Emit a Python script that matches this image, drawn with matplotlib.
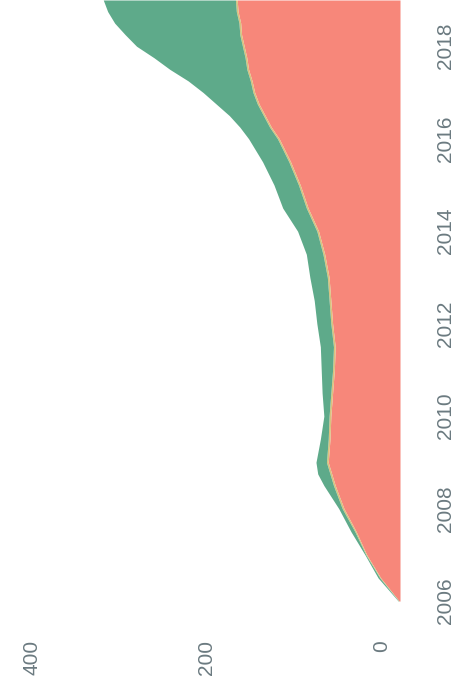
import matplotlib
matplotlib.use("Agg")
import matplotlib.pyplot as plt
import matplotlib.transforms as mtransforms
import numpy as np

# Data (stacked area, years on vertical axis in this rotated view)
years = [2006.0, 2006.5, 2007.0, 2007.5, 2008.0, 2008.5, 2008.75, 2009.0, 2009.5,
         2010.0, 2010.5, 2011.0, 2011.5, 2012.0, 2012.5, 2013.0, 2013.5, 2014.0,
         2014.5, 2015.0, 2015.5, 2016.0, 2016.25, 2016.5, 2016.75, 2017.0, 2017.25,
         2017.5, 2017.75, 2018.0, 2018.25, 2018.5, 2018.75, 2019.0]
red_series = [1, 22, 38, 50, 64, 74, 78, 82, 80,
              79, 77, 75, 74, 77, 79, 81, 86, 93,
              105, 114, 125, 138, 147, 154, 161, 166, 169,
              173, 175, 178, 181, 182, 185, 186]
yellow_series = [0.5, 1, 1, 1.5, 2, 2, 2, 2, 2,
                 2, 2, 2, 2, 2, 2, 2, 2, 2,
                 2, 2, 2, 2, 2, 2, 2, 2, 2,
                 2, 2, 2, 2, 2, 2, 2]
green_series = [0.5, 2, 1, 4.5, 4, 11, 14, 12, 9,
                6, 10, 13, 15, 16, 17, 20, 19, 22,
                27, 28, 30, 33, 34, 39, 47, 57, 71,
                88, 104, 121, 131, 142, 147, 151]
year_ticks = [2006, 2008, 2010, 2012, 2014, 2016, 2018]
value_ticks = [0, 200, 400]

W, H = 469, 698
fig = plt.figure(figsize=(W / 100, H / 100), dpi=100)
fig.patch.set_facecolor("white")
# axes: value 0 at x=400 px, years 2019 at top edge
ax = fig.add_axes([0, 90 / H, 400 / W, (H - 90) / H])

y = np.array(years)
r = np.array(red_series)
yl = r + np.array(yellow_series)
g = yl + np.array(green_series)

ax.fill_betweenx(y, 0, r, color="#F7877A", lw=0)
ax.fill_betweenx(y, r, yl, color="#D9C27E", lw=0)
ax.fill_betweenx(y, yl, g, color="#5EAA8A", lw=0)

ax.set_xlim(457, 0)
ax.set_ylim(2005.85, 2019.0)

for s in ax.spines.values():
    s.set_visible(False)
ax.set_facecolor("white")

txt_color = "#6b7a80"
fam = ["Liberation Sans Narrow", "Liberation Sans", "DejaVu Sans"]

ax.yaxis.tick_right()
ax.set_yticks(year_ticks)
ax.set_yticklabels([str(v) for v in year_ticks], rotation=90, va="center",
                   fontsize=15, color=txt_color, family=fam)
ax.tick_params(axis="y", length=0, pad=26)

ax.set_xticks(value_ticks)
ax.set_xticklabels([str(v) for v in value_ticks], rotation=90, ha="center", va="top",
                   fontsize=15, color=txt_color, family=fam)
ax.tick_params(axis="x", length=0, pad=23)

offset = mtransforms.ScaledTranslation(-18 / 100, 0, fig.dpi_scale_trans)
for lab in ax.get_xticklabels():
    lab.set_transform(lab.get_transform() + offset)

fig.savefig("out.png", dpi=100, facecolor="white")
